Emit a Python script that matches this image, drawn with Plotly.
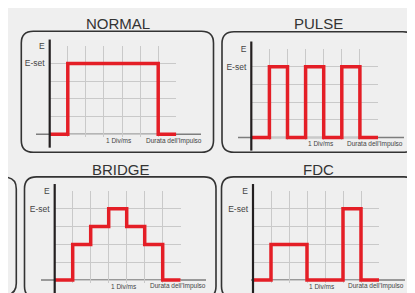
import plotly.graph_objects as go

W, H = 415, 293

# ---- data ----
x_div = [0, 1, 2, 3, 4, 5, 6, 7]
normal_levels = [0, 4, 4, 4, 4, 4, 0, 0]
pulse_levels = [0, 4, 0, 4, 0, 4, 0, 0]
bridge_levels = [0, 2, 3, 4, 3, 2, 0, 0]
fdc_levels = [0, 2, 2, 0, 0, 4, 0, 0]
titles = ["NORMAL", "PULSE", "BRIDGE", "FDC"]
series = [normal_levels, pulse_levels, bridge_levels, fdc_levels]
y_tickvals = [0, 1, 2, 3, 4, 5]
y_ticktext = ["", "", "", "", "E-set", "E"]
x_labels = ["1 Div/ms", "Durata dell'Impulso"]
x_label_pos = [3.85, 6.85]

# ---- geometry (pixels) ----
panels = [
    dict(ax=41.7, gr=168.3, gt=33.3, gb=123.3, at=27, ab=137, bl=28, br=193,
         box=(13.3, 18.5, 205.5, 141.7), tc=(110, 11)),
    dict(ax=243.3, gr=370, gt=36.7, gb=126.7, at=29, ab=140, bl=230, br=396,
         box=(214, 19, 406.7, 141.7), tc=(310, 11)),
    dict(ax=46.7, gr=172.7, gt=181, gb=271.7, at=174, ab=285, bl=33, br=198,
         box=(16.5, 166.7, 208, 290), tc=(113, 159)),
    dict(ax=245, gr=371, gt=181, gb=271.7, at=174, ab=285, bl=243, br=397,
         box=(213.5, 166.7, 408, 290), tc=(310, 159)),
]

def P(x, y):
    return f"{x / W:.5f},{1 - y / H:.5f}"

def rrect(l, t, r, b, rad):
    return (f"M {P(l + rad, t)} L {P(r - rad, t)} Q {P(r, t)} {P(r, t + rad)} "
            f"L {P(r, b - rad)} Q {P(r, b)} {P(r - rad, b)} L {P(l + rad, b)} "
            f"Q {P(l, b)} {P(l, b - rad)} L {P(l, t + rad)} Q {P(l, t)} {P(l + rad, t)} Z")

FONT = "Liberation Sans, Arial, sans-serif"
RED = "#e41e26"
YMIN = -0.15

fig = go.Figure()
layout = dict(
    width=W, height=H, margin=dict(l=0, r=0, t=0, b=0),
    paper_bgcolor="#efefef", plot_bgcolor="rgba(0,0,0,0)",
    showlegend=False, shapes=[], annotations=[],
)

# partial box at the far left
layout["shapes"].append(dict(type="path", xref="paper", yref="paper",
                             path=rrect(-60, 167, 8.3, 287, 12),
                             line=dict(color="#333333", width=1.6)))

for i, (g, name, lv) in enumerate(zip(panels, titles, series)):
    sfx = "" if i == 0 else str(i + 1)
    ppu = (g["gb"] - g["gt"]) / 5.0
    ppx = (g["gr"] - g["ax"]) / 7.0
    bottom = g["gb"] - YMIN * ppu
    layout["xaxis" + sfx] = dict(
        domain=[g["ax"] / W, g["gr"] / W], range=[0, 7],
        tickvals=x_div, showticklabels=False, ticks="",
        showgrid=True, gridcolor="#c9c9c9", gridwidth=1,
        zeroline=False, showline=False, anchor="y" + sfx, fixedrange=True,
    )
    layout["yaxis" + sfx] = dict(
        domain=[1 - bottom / H, 1 - g["gt"] / H], range=[YMIN, 5],
        tickvals=y_tickvals, ticktext=y_ticktext, ticks="",
        tickfont=dict(family=FONT, size=8.5, color="#444444"),
        ticklabelstandoff=4,
        showgrid=True, gridcolor="#c9c9c9", gridwidth=1,
        zeroline=False, showline=False, anchor="x" + sfx, fixedrange=True,
    )
    # box
    l, t, r, b = g["box"]
    layout["shapes"].append(dict(type="path", xref="paper", yref="paper",
                                 path=rrect(l, t, r, b, 12),
                                 line=dict(color="#333333", width=1.6)))
    # baseline
    layout["shapes"].append(dict(type="line", xref="paper", yref="paper",
                                 x0=g["bl"] / W, x1=g["br"] / W,
                                 y0=1 - g["gb"] / H, y1=1 - g["gb"] / H,
                                 line=dict(color="#7d7d7d", width=1.6), layer="below"))
    # vertical axis line
    layout["shapes"].append(dict(type="line", xref="paper", yref="paper",
                                 x0=g["ax"] / W, x1=g["ax"] / W,
                                 y0=1 - g["at"] / H, y1=1 - g["ab"] / H,
                                 line=dict(color="#231f20", width=2.2), layer="above"))
    # title
    layout["annotations"].append(dict(text=name, xref="paper", yref="paper",
                                      x=g["tc"][0] / W, y=1 - g["tc"][1] / H,
                                      xanchor="center", yanchor="middle", showarrow=False,
                                      font=dict(family=FONT, size=15, color="#333333")))
    # x labels (placed in axis units, converted to page position)
    for txt, xp in zip(x_labels, x_label_pos):
        px = g["ax"] + xp * ppx
        py = g["gb"] + 6.5
        layout["annotations"].append(dict(text=txt, xref="paper", yref="paper",
                                          x=px / W, y=1 - py / H,
                                          xanchor="center", yanchor="middle", showarrow=False,
                                          font=dict(family=FONT, size=6.5, color="#444444")))
    fig.add_trace(go.Scatter(x=x_div, y=lv, mode="lines", line_shape="hv",
                             line=dict(color=RED, width=3.5),
                             xaxis="x" + sfx, yaxis="y" + sfx,
                             cliponaxis=False, hoverinfo="skip"))

fig.update_layout(**layout)
fig.write_html("out.html")
